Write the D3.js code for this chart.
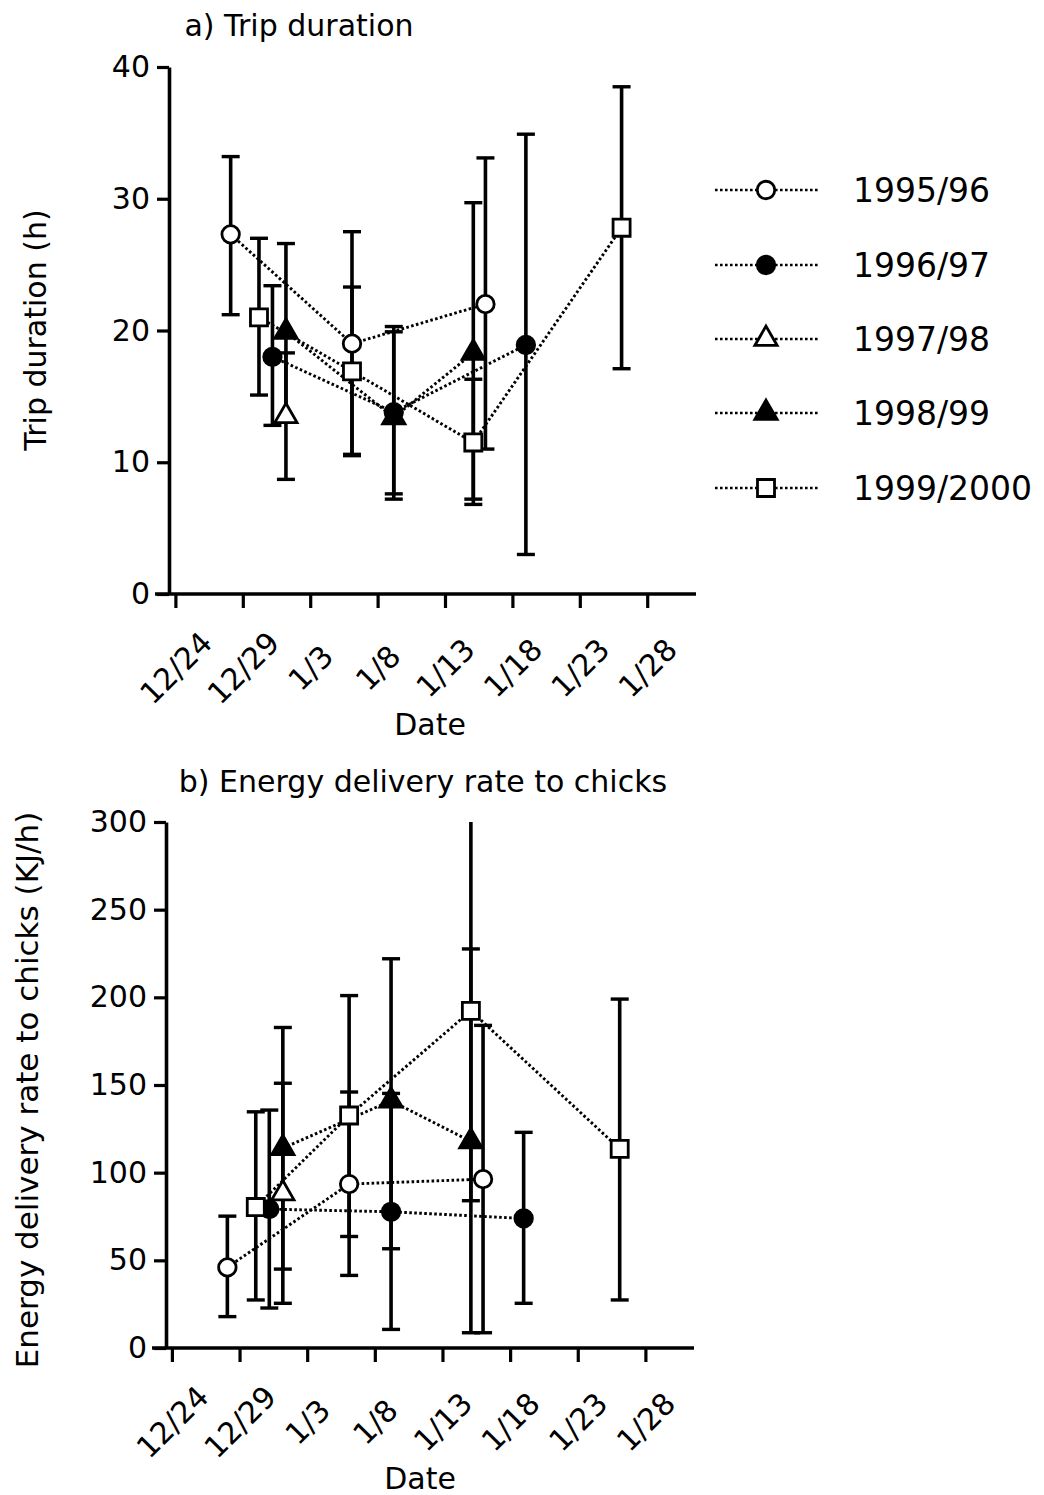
<!DOCTYPE html>
<html>
<head>
<meta charset="utf-8">
<script src="https://cdn.jsdelivr.net/npm/d3@7"></script>
<style>
  html, body { margin: 0; padding: 0; background: #fff; }
  svg { display: block; }
  text { font-family: "DejaVu Sans", Verdana, sans-serif; fill: #000; }
</style>
</head>
<body>
<svg id="chart" width="1044" height="1495"></svg>
<script>
// Days counted from 12/24; tick labels for the date axis
const dateTicks = [0, 5, 10, 15, 20, 25, 30, 35];
const dateTickLabels = ["12/24", "12/29", "1/3", "1/8", "1/13", "1/18", "1/23", "1/28"];

const seasons = ["1995/96", "1996/97", "1997/98", "1998/99", "1999/2000"];
const symbolKinds = ["circle", "circle", "triangle", "triangle", "square"];
const symbolFilled = [false, true, false, true, false];

// Sampling dates per season (days after 12/24)
const day9596 = [4.1, 13.1, 23.0];
const day9697 = [7.2, 16.2, 26.0];
const day9798 = [8.2];
const day9899 = [8.2, 16.2, 22.1];
const day9900 = [6.2, 13.1, 22.1, 33.1];

// a) Trip duration (h): mean, lower and upper error bound
const trip9596 = [27.3, 19.0, 22.0];
const tripLo9596 = [21.2, 10.6, 11.0];
const tripHi9596 = [33.2, 27.5, 33.1];
const trip9697 = [18.0, 13.8, 18.9];
const tripLo9697 = [12.8, 7.6, 3.0];
const tripHi9697 = [23.4, 20.3, 34.9];
const trip9798 = [13.5];
const tripLo9798 = [8.7];
const tripHi9798 = [18.3];
const trip9899 = [19.9, 13.4, 18.3];
const tripLo9899 = [13.2, 7.2, 6.8];
const tripHi9899 = [26.6, 19.9, 29.7];
const trip9900 = [21.0, 16.9, 11.5, 27.8];
const tripLo9900 = [15.1, 10.5, 7.2, 17.1];
const tripHi9900 = [27.0, 23.3, 16.3, 38.5];

// b) Energy delivery rate to chicks (KJ/h)
const energy9596 = [46, 93.5, 96.3];
const energyLo9596 = [17.9, 41.4, 8.7];
const energyHi9596 = [75.2, 146, 184];
const energy9697 = [79.2, 77.7, 73.9];
const energyLo9697 = [22.8, 10.6, 25.5];
const energyHi9697 = [135.7, 145.2, 123];
const energy9798 = [88.2];
const energyLo9798 = [25.5];
const energyHi9798 = [151];
const energy9899 = [114, 141, 117.8];
const energyLo9899 = [45, 56.6, 8.7];
const energyHi9899 = [182.8, 222, 227.6];
const energy9900 = [80.4, 132.6, 192.3, 113.6];
const energyLo9900 = [27.4, 63.6, 84, 27.4];
const energyHi9900 = [134.7, 201, 300.5, 199];

const tripTicks = [0, 10, 20, 30, 40];
const energyTicks = [0, 50, 100, 150, 200, 250, 300];

function buildSeries(days, means, los, his) {
  return days.map((d, i) => ({ day: d, v: means[i], lo: los[i], hi: his[i] }));
}

const tripSeries = [
  buildSeries(day9596, trip9596, tripLo9596, tripHi9596),
  buildSeries(day9697, trip9697, tripLo9697, tripHi9697),
  buildSeries(day9798, trip9798, tripLo9798, tripHi9798),
  buildSeries(day9899, trip9899, tripLo9899, tripHi9899),
  buildSeries(day9900, trip9900, tripLo9900, tripHi9900)
];
const energySeries = [
  buildSeries(day9596, energy9596, energyLo9596, energyHi9596),
  buildSeries(day9697, energy9697, energyLo9697, energyHi9697),
  buildSeries(day9798, energy9798, energyLo9798, energyHi9798),
  buildSeries(day9899, energy9899, energyLo9899, energyHi9899),
  buildSeries(day9900, energy9900, energyLo9900, energyHi9900)
];

const svg = d3.select("#chart");
const INK = "#000";
const DOTS = "2.6,2.4";

function symbolPath(i) {
  const kind = symbolKinds[i];
  if (kind === "circle") return d3.symbol().type(d3.symbolCircle).size(240)();
  if (kind === "triangle") return d3.symbol().type(d3.symbolTriangle).size(215)();
  return d3.symbol().type(d3.symbolSquare).size(290)();
}

function drawMarker(g, i, x, y) {
  g.append("path")
    .attr("d", symbolPath(i))
    .attr("transform", `translate(${x},${y})`)
    .attr("fill", symbolFilled[i] ? INK : "#fff")
    .attr("stroke", INK)
    .attr("stroke-width", 2.8);
}

function drawPanel(cfg) {
  const x = d3.scaleLinear().domain([0, 35]).range(cfg.xRange);
  const y = d3.scaleLinear().domain([0, cfg.yMax]).range(cfg.yRange);
  const g = svg.append("g");
  const axisY = y(0);

  // title
  g.append("text")
    .attr("x", cfg.titleX).attr("y", cfg.titleY)
    .attr("text-anchor", "middle")
    .style("font-size", "30px")
    .text(cfg.title);

  // y axis
  const yAxis = g.append("g")
    .attr("transform", `translate(${cfg.axisX},0)`)
    .call(d3.axisLeft(y).tickValues(cfg.yTicks).tickSize(12).tickSizeOuter(0).tickPadding(7));
  yAxis.select(".domain").attr("stroke", INK).attr("stroke-width", 3.6);
  yAxis.selectAll(".tick line").attr("stroke", INK).attr("stroke-width", 3.2);
  yAxis.selectAll(".tick text").style("font-size", "30px")
    .style("font-family", "DejaVu Sans, sans-serif").attr("fill", INK);

  // x axis
  const xAxis = g.append("g")
    .attr("transform", `translate(0,${axisY})`)
    .call(d3.axisBottom(x).tickValues(dateTicks).tickSize(14)
      .tickFormat((d, i) => dateTickLabels[i]));
  xAxis.select(".domain").remove();
  xAxis.selectAll(".tick line").attr("stroke", INK).attr("stroke-width", 3.2);
  xAxis.selectAll(".tick text")
    .style("font-size", "30px")
    .style("font-family", "DejaVu Sans, sans-serif")
    .attr("fill", INK)
    .attr("y", 0).attr("dy", "0.35em")
    .attr("text-anchor", "middle")
    .attr("transform", `translate(0,${cfg.tickLabelOffset}) rotate(-45)`);
  g.append("line")
    .attr("x1", cfg.axisX - 14).attr("x2", cfg.xAxisEnd)
    .attr("y1", axisY).attr("y2", axisY)
    .attr("stroke", INK).attr("stroke-width", 3.6);

  // axis titles
  g.append("text")
    .attr("x", cfg.dateX).attr("y", cfg.dateY)
    .attr("text-anchor", "middle")
    .style("font-size", "30px")
    .text("Date");
  g.append("text")
    .attr("transform", `translate(${cfg.yTitleX},${cfg.yTitleY}) rotate(-90)`)
    .attr("text-anchor", "middle")
    .style("font-size", cfg.yTitleSize)
    .text(cfg.yTitle);

  const top = y(cfg.yMax);

  // connecting dotted lines
  const line = d3.line().x(d => x(d.day)).y(d => y(d.v));
  cfg.series.forEach(s => {
    if (s.length < 2) return;
    g.append("path")
      .attr("d", line(s))
      .attr("fill", "none")
      .attr("stroke", INK)
      .attr("stroke-width", 2.9)
      .attr("stroke-dasharray", DOTS);
  });

  // error bars
  const capHalf = 9;
  cfg.series.forEach(s => {
    s.forEach(d => {
      const cx = x(d.day);
      const yHi = d.hi > cfg.yMax ? top : y(d.hi);
      const yLo = y(Math.max(d.lo, 0));
      g.append("line")
        .attr("x1", cx).attr("x2", cx)
        .attr("y1", yHi).attr("y2", yLo)
        .attr("stroke", INK).attr("stroke-width", 3.6);
      if (d.hi <= cfg.yMax) {
        g.append("line")
          .attr("x1", cx - capHalf).attr("x2", cx + capHalf)
          .attr("y1", yHi).attr("y2", yHi)
          .attr("stroke", INK).attr("stroke-width", 3.4);
      }
      g.append("line")
        .attr("x1", cx - capHalf).attr("x2", cx + capHalf)
        .attr("y1", yLo).attr("y2", yLo)
        .attr("stroke", INK).attr("stroke-width", 3.4);
    });
  });

  // markers
  cfg.series.forEach((s, i) => {
    s.forEach(d => drawMarker(g, i, x(d.day), y(d.v)));
  });
}

drawPanel({
  title: "a) Trip duration", titleX: 299, titleY: 36,
  series: tripSeries, yMax: 40, yTicks: tripTicks,
  xRange: [175.4, 647.2], yRange: [594, 67],
  axisX: 169, xAxisEnd: 696, tickLabelOffset: 74,
  dateX: 430, dateY: 735,
  yTitle: "Trip duration (h)", yTitleX: 46, yTitleY: 330, yTitleSize: "30px"
});

drawPanel({
  title: "b) Energy delivery rate to chicks", titleX: 423, titleY: 792,
  series: energySeries, yMax: 300, yTicks: energyTicks,
  xRange: [171.9, 645.4], yRange: [1348, 822],
  axisX: 166, xAxisEnd: 694, tickLabelOffset: 74,
  dateX: 420, dateY: 1489,
  yTitle: "Energy delivery rate to chicks (KJ/h)", yTitleX: 38, yTitleY: 1090, yTitleSize: "31px"
});

// legend
const legendRows = [190, 265, 339, 413, 488];
const legend = svg.append("g");
seasons.forEach((name, i) => {
  const ly = legendRows[i];
  legend.append("line")
    .attr("x1", 715).attr("x2", 818)
    .attr("y1", ly).attr("y2", ly)
    .attr("stroke", INK).attr("stroke-width", 2.6)
    .attr("stroke-dasharray", DOTS);
  drawMarker(legend, i, 766, ly);
  legend.append("text")
    .attr("x", 853).attr("y", ly)
    .attr("dy", "0.36em")
    .style("font-size", "33px")
    .text(name);
});
</script>
</body>
</html>
